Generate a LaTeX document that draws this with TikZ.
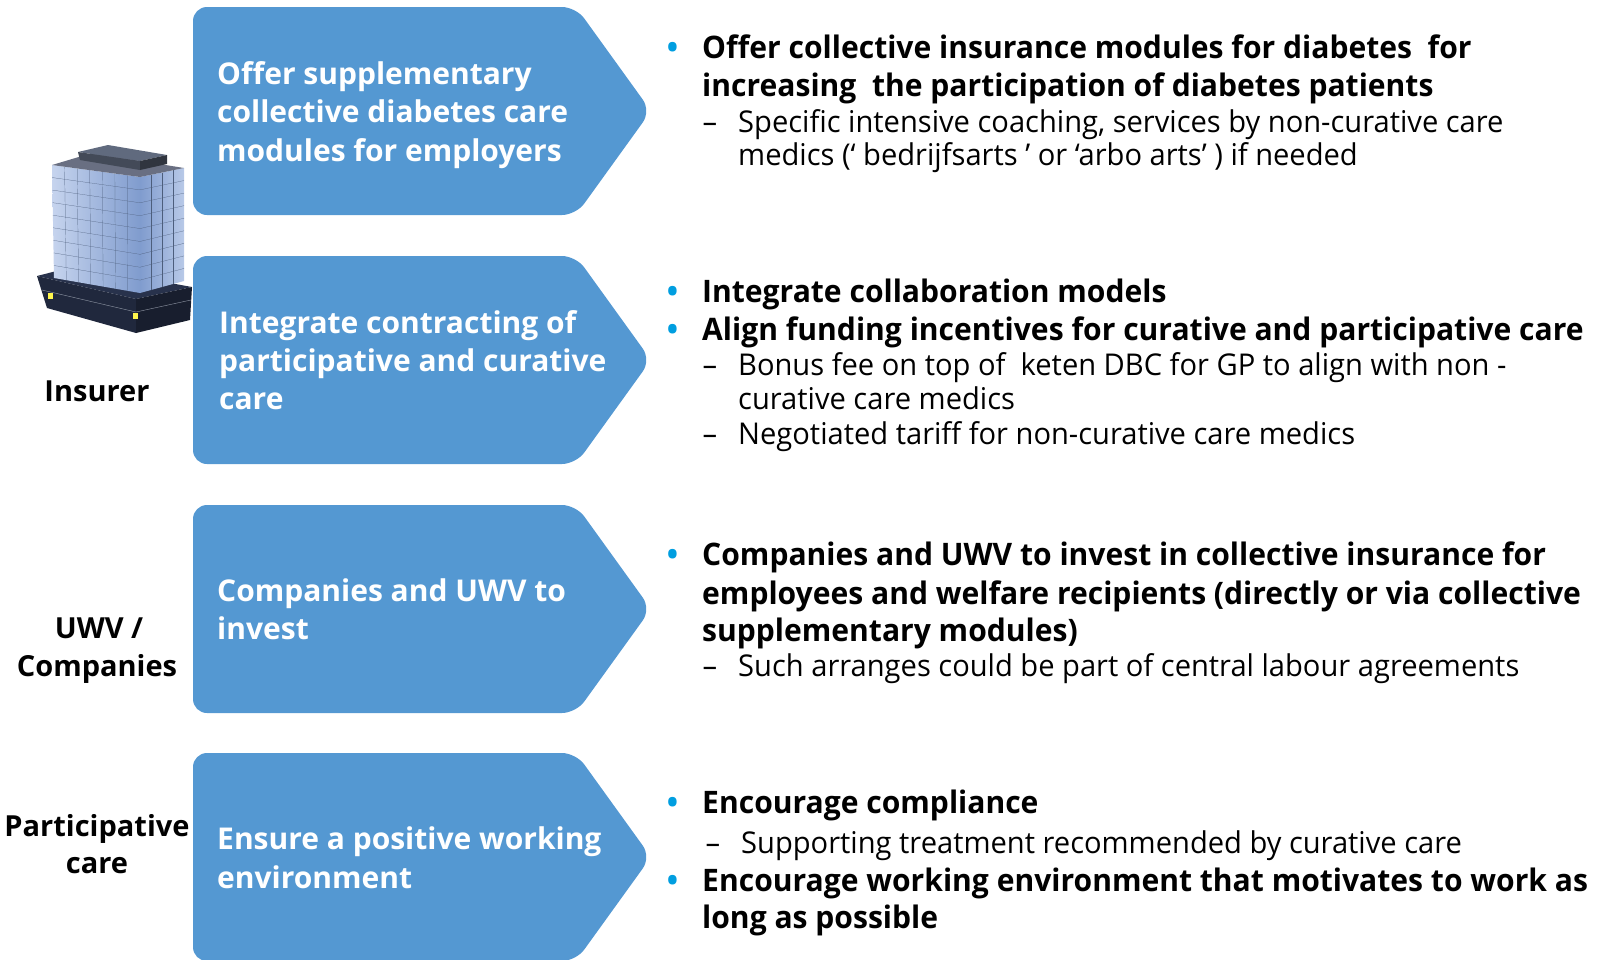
\documentclass[tikz,border=0pt]{standalone}
\usepackage{fontspec}
\setmainfont{Open Sans}
\newfontfamily\condfont{Open Sans}[FakeStretch=0.97]
\usetikzlibrary{positioning,calc}
\definecolor{chevblue}{RGB}{84,152,210}
\definecolor{dotblue}{RGB}{0,158,224}
\definecolor{glasslight}{RGB}{198,212,238}
\definecolor{glassblue}{RGB}{128,156,206}
\definecolor{towernavy}{RGB}{40,50,76}
\definecolor{roofgray}{RGB}{96,106,126}

\tikzset{
  chevtext/.style={anchor=base west, inner sep=0pt, text=white,
    font=\fontsize{30}{38}\selectfont\bfseries},
  actor/.style={anchor=base, inner sep=0pt,
    font=\fontsize{29}{37}\selectfont\bfseries},
  mainpt/.style={anchor=base west, inner sep=0pt,
    font=\condfont\fontsize{31}{38}\selectfont\bfseries},
  subpt/.style={anchor=base west, inner sep=0pt,
    font=\condfont\fontsize{30}{34}\selectfont},
}
\newcommand{\dotmark}{\makebox[0pt][r]{\textcolor{dotblue}{\textbullet}\hspace{24pt}}}
\newcommand{\dashmark}{\makebox[0pt][r]{–\hspace{21pt}}}

\begin{document}
\begin{tikzpicture}[x=1pt,y=-1pt]
    \useasboundingbox (0,0) rectangle (1602,959);

    % Arrow shapes, one per row
    \foreach \ty in {7,256,505,753}
        \fill[chevblue, rounded corners=14pt] (193,\ty) -- (576,\ty)
            -- (651,\ty+104) -- (576,\ty+208) -- (193,\ty+208) -- cycle;

    % Office tower (insurer)
    \fill[towernavy] (37,276) -- (76,266) -- (192,287) -- (136,299) -- cycle;
    \fill[towernavy!80!black] (37,276) -- (136,299) -- (136,333) -- (47,308) -- cycle;
    \fill[towernavy!60!black] (136,299) -- (192,287) -- (190,320) -- (136,333) -- cycle;
    \draw[roofgray!70, thin] (42,290) -- (136,312) -- (191,300);
    \fill[yellow!70!white] (48,293) rectangle (53,299);
    \fill[yellow!70!white] (133,313) rectangle (138,319);
    \shade[left color=glasslight, right color=glassblue]
        (52,165) -- (140,177) -- (140,293) -- (54,278) -- cycle;
    \shade[left color=glassblue, right color=glasslight!80!glassblue]
        (140,177) -- (184,168) -- (184,281) -- (140,293) -- cycle;
    \foreach \i in {1,...,6}
        \draw[glassblue!60!black, very thin]
            ($(52,165)!\i/7!(140,177)$) -- ($(54,278)!\i/7!(140,293)$);
    \foreach \i in {1,2,3}
        \draw[glassblue!60!black, very thin]
            ($(140,177)!\i/4!(184,168)$) -- ($(140,293)!\i/4!(184,281)$);
    \foreach \j in {1,...,8} {
        \draw[glassblue!60!black, very thin]
            ($(52,165)!\j/9!(54,278)$) -- ($(140,177)!\j/9!(140,293)$);
        \draw[glassblue!60!black, very thin]
            ($(140,177)!\j/9!(140,293)$) -- ($(184,168)!\j/9!(184,281)$);
    }
    \fill[towernavy!70] (52,165) -- (92,153) -- (184,168) -- (140,177) -- cycle;
    \fill[roofgray] (78,152) -- (108,145) -- (167,155) -- (140,161) -- cycle;
    \fill[roofgray!70!black] (78,152) -- (140,161) -- (140,170) -- (80,160) -- cycle;
    \fill[roofgray!50!black] (140,161) -- (167,155) -- (167,164) -- (140,170) -- cycle;

    % Actors on the left
    \node[actor] (insurer) at (97,401) {Insurer};
    \node[actor] (uwv) at (99,638) {UWV /};
    \node[actor] (companies) at (97,676) {Companies};
    \node[actor] (partic) at (97,836) {Participative};
    \node[actor] (care) at (97,873) {care};

    % Texts inside the arrows
    \node[chevtext] (c1a) at (217,84) {Offer supplementary};
    \node[chevtext] (c1b) at (217,122) {collective diabetes care};
    \node[chevtext] (c1c) at (217,161) {modules for employers};
    \node[chevtext] (c2a) at (219,333) {Integrate contracting of};
    \node[chevtext] (c2b) at (219,371) {participative and curative};
    \node[chevtext] (c2c) at (219,409) {care};
    \node[chevtext] (c3a) at (217,601) {Companies and UWV to};
    \node[chevtext] (c3b) at (217,639) {invest};
    \node[chevtext] (c4a) at (217,849) {Ensure a positive working};
    \node[chevtext] (c4b) at (217,888) {environment};

    % Insurer: modules
    \node[mainpt] (r1a) at (702,58) {\dotmark Offer collective insurance modules for diabetes\ \ for};
    \node[mainpt] (r1b) at (702,96) {increasing\ \ the participation of diabetes patients};
    \node[subpt] (r1c) at (738,132) {\dashmark Specific intensive coaching, services by non-curative care};
    \node[subpt] (r1d) at (738,165) {medics (‘ bedrijfsarts ’ or ‘arbo arts’ ) if needed};

    % Insurer: contracting
    \node[mainpt] (r2a) at (702,302) {\dotmark Integrate collaboration models};
    \node[mainpt] (r2b) at (702,340) {\dotmark Align funding incentives for curative and participative care};
    \node[subpt] (r2c) at (738,375) {\dashmark Bonus fee on top of\ \ keten DBC for GP to align with non -};
    \node[subpt] (r2d) at (738,409) {curative care medics};
    \node[subpt] (r2e) at (738,444) {\dashmark Negotiated tariff for non-curative care medics};

    % UWV / companies
    \node[mainpt] (r3a) at (702,565) {\dotmark Companies and UWV to invest in collective insurance for};
    \node[mainpt] (r3b) at (702,604) {employees and welfare recipients (directly or via collective};
    \node[mainpt] (r3c) at (702,641) {supplementary modules)};
    \node[subpt] (r3d) at (738,676) {\dashmark Such arranges could be part of central labour agreements};

    % Participative care
    \node[mainpt] (r4a) at (702,813) {\dotmark Encourage compliance};
    \node[subpt] (r4b) at (741,853) {\dashmark Supporting treatment recommended by curative care};
    \node[mainpt] (r4c) at (702,891) {\dotmark Encourage working environment that motivates to work as};
    \node[mainpt] (r4d) at (702,928) {long as possible};
\end{tikzpicture}
\end{document}
